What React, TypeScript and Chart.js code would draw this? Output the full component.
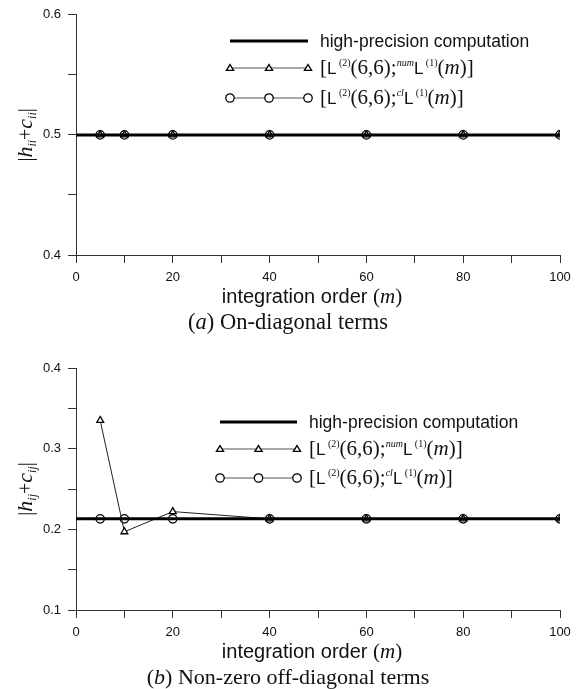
import React, { useEffect, useRef } from 'react';
import { Chart, registerables } from 'chart.js';
Chart.register(...registerables);

// ---------- data ----------
const mOrders = [5, 10, 20, 40, 60, 80, 100];
const hpSpan = [0, 100];
const hpOnDiag = 0.5;
const numOnDiag = [0.5, 0.5, 0.5, 0.5, 0.5, 0.5, 0.5];
const clOnDiag = [0.5, 0.5, 0.5, 0.5, 0.5, 0.5, 0.5];
const hpOffDiag = 0.213;
const numOffDiag = [0.335, 0.197, 0.222, 0.213, 0.213, 0.213, 0.213];
const clOffDiag = [0.213, 0.213, 0.213, 0.213, 0.213, 0.213, 0.213];
const xRange = [0, 100];
const yRangeA = [0.4, 0.6];
const yRangeB = [0.1, 0.4];
const legendTexts = ['high-precision computation', 'num', 'cl'];

const SANS = '"Liberation Sans", Arial, Helvetica, sans-serif';
const SERIF = '"Liberation Serif", "Times New Roman", Times, serif';

type Run = { t: string; f: string; dy?: number };

function runsWidth(ctx: CanvasRenderingContext2D, runs: Run[]) {
  let w = 0;
  for (const r of runs) {
    ctx.font = r.f;
    w += ctx.measureText(r.t).width;
  }
  return w;
}

function drawRuns(ctx: CanvasRenderingContext2D, runs: Run[], x: number, y: number, align: 'left' | 'center') {
  let cx = align === 'center' ? x - runsWidth(ctx, runs) / 2 : x;
  ctx.textAlign = 'left';
  ctx.textBaseline = 'alphabetic';
  for (const r of runs) {
    ctx.font = r.f;
    ctx.fillText(r.t, cx, y + (r.dy || 0));
    cx += ctx.measureText(r.t).width;
  }
}

function lambdaRuns(sup: string): Run[] {
  return [
    { t: '[', f: `21px ${SERIF}` },
    { t: 'L', f: `17px ${SANS}` },
    { t: ' (2)', f: `10px ${SERIF}`, dy: -8 },
    { t: '(6,6);', f: `21px ${SERIF}` },
    { t: sup, f: `italic 10px ${SERIF}`, dy: -8 },
    { t: 'L', f: `17px ${SANS}` },
    { t: ' (1)', f: `10px ${SERIF}`, dy: -8 },
    { t: '(', f: `21px ${SERIF}` },
    { t: 'm', f: `italic 21px ${SERIF}` },
    { t: ')]', f: `21px ${SERIF}` },
  ];
}

function drawTri(ctx: CanvasRenderingContext2D, x: number, y: number, r: number) {
  const h = r * 1.6;
  ctx.beginPath();
  ctx.moveTo(x, y - h * 0.6);
  ctx.lineTo(x + r, y + h * 0.4);
  ctx.lineTo(x - r, y + h * 0.4);
  ctx.closePath();
  ctx.fillStyle = '#fff';
  ctx.fill();
  ctx.strokeStyle = '#000';
  ctx.lineWidth = 1.3;
  ctx.stroke();
}

function drawCirc(ctx: CanvasRenderingContext2D, x: number, y: number, r: number) {
  ctx.beginPath();
  ctx.arc(x, y, r, 0, Math.PI * 2);
  ctx.fillStyle = '#fff';
  ctx.fill();
  ctx.strokeStyle = '#000';
  ctx.lineWidth = 1.3;
  ctx.stroke();
}

type PanelCfg = {
  height: number;
  top: number;
  yMin: number;
  yMax: number;
  hp: number;
  num: number[];
  cl: number[];
  sub: string;
  caption: Run[];
  legend: { x0: number; x1: number; tx: number; rows: number[] };
};

function Panel({ cfg }: { cfg: PanelCfg }) {
  const ref = useRef<HTMLCanvasElement | null>(null);
  useEffect(() => {
    const canvas = ref.current!;
    const annot = {
      id: 'annot',
      afterDraw(chart: any) {
        const ctx: CanvasRenderingContext2D = chart.ctx;
        const area = chart.chartArea;
        ctx.save();
        const L = cfg.legend;
        // row 1
        ctx.strokeStyle = '#000';
        ctx.lineWidth = 3;
        ctx.beginPath();
        ctx.moveTo(L.x0, L.rows[0]);
        ctx.lineTo(L.x1, L.rows[0]);
        ctx.stroke();
        ctx.fillStyle = '#111';
        drawRuns(ctx, [{ t: legendTexts[0], f: `17.5px ${SANS}` }], L.tx, L.rows[0] + 6, 'left');
        // rows 2, 3
        const xm = (L.x0 + L.x1) / 2;
        for (let k = 1; k <= 2; k++) {
          const y = L.rows[k];
          ctx.strokeStyle = '#555';
          ctx.lineWidth = 1.2;
          ctx.beginPath();
          ctx.moveTo(L.x0, y);
          ctx.lineTo(L.x1, y);
          ctx.stroke();
          for (const px of [L.x0, xm, L.x1]) {
            if (k === 1) drawTri(ctx, px, y, 3.6);
            else drawCirc(ctx, px, y, 4.2);
          }
          ctx.fillStyle = '#111';
          drawRuns(ctx, lambdaRuns(legendTexts[k]), L.tx, y + 6, 'left');
        }
        // y-axis title (rotated)
        const cy = (area.top + area.bottom) / 2;
        ctx.save();
        ctx.translate(25, cy);
        ctx.rotate(-Math.PI / 2);
        ctx.fillStyle = '#111';
        drawRuns(ctx, [
          { t: '|', f: `20px ${SERIF}` },
          { t: 'h', f: `italic 22px ${SERIF}` },
          { t: cfg.sub, f: `italic 12px ${SERIF}`, dy: 4 },
          { t: '+', f: `20px ${SERIF}` },
          { t: 'c', f: `italic 22px ${SERIF}` },
          { t: cfg.sub, f: `italic 12px ${SERIF}`, dy: 4 },
          { t: '|', f: `20px ${SERIF}` },
        ], 0, 7, 'center');
        ctx.restore();
        // x-axis title
        ctx.fillStyle = '#111';
        drawRuns(ctx, [
          { t: 'integration order ', f: `20px ${SANS}` },
          { t: '(', f: `21px ${SERIF}` },
          { t: 'm', f: `italic 21px ${SERIF}` },
          { t: ')', f: `21px ${SERIF}` },
        ], 312, area.bottom + 48, 'center');
        // caption
        drawRuns(ctx, cfg.caption, 288, area.bottom + 74, 'center');
        ctx.restore();
      },
    };

    const chart = new Chart(canvas, {
      type: 'scatter',
      data: {
        datasets: [
          {
            label: 'hp',
            data: hpSpan.map((x) => ({ x, y: cfg.hp })),
            showLine: true,
            borderColor: '#000',
            borderWidth: 3,
            pointRadius: 0,
          },
          {
            label: 'num',
            data: mOrders.map((m, i) => ({ x: m, y: cfg.num[i] })),
            showLine: true,
            borderColor: '#222',
            borderWidth: 1,
            pointStyle: 'triangle',
            pointRadius: 4,
            pointBorderWidth: 1.3,
            pointBorderColor: '#000',
            pointBackgroundColor: '#fff',
          },
          {
            label: 'cl',
            data: mOrders.map((m, i) => ({ x: m, y: cfg.cl[i] })),
            showLine: true,
            borderColor: '#555',
            borderWidth: 1,
            pointStyle: 'circle',
            pointRadius: 4.2,
            pointBorderWidth: 1.3,
            pointBorderColor: '#000',
            pointBackgroundColor: '#fff',
          },
        ],
      },
      options: {
        responsive: false,
        animation: false,
        devicePixelRatio: 1,
        layout: { padding: { top: cfg.top, right: 18, left: 0, bottom: 0 } },
        plugins: { legend: { display: false }, tooltip: { enabled: false } },
        scales: {
          x: {
            type: 'linear',
            min: xRange[0],
            max: xRange[1],
            afterFit: (s: any) => { s.height = cfg.height - (cfg.top + 242); },
            grid: { display: true, drawOnChartArea: false, drawTicks: true, tickLength: 8, color: '#333' },
            border: { display: true, color: '#333', width: 1 },
            ticks: {
              stepSize: 10,
              autoSkip: false,
              maxRotation: 0,
              padding: 7,
              color: '#111',
              font: { family: SANS, size: 13 },
              callback: (v: any) => (Math.round(v) % 20 === 0 ? String(v) : ''),
            },
          },
          y: {
            type: 'linear',
            min: cfg.yMin,
            max: cfg.yMax,
            afterFit: (s: any) => { s.width = 76; },
            grid: { display: true, drawOnChartArea: false, drawTicks: true, tickLength: 8, color: '#333' },
            border: { display: true, color: '#333', width: 1 },
            ticks: {
              stepSize: 0.05,
              autoSkip: false,
              padding: 7,
              color: '#111',
              font: { family: SANS, size: 13 },
              callback: (v: any) => {
                const t = Number(v) * 10;
                return Math.abs(t - Math.round(t)) < 1e-6 ? Number(v).toFixed(1) : '';
              },
            },
          },
        },
      },
      plugins: [annot],
    } as any);
    return () => chart.destroy();
  }, [cfg]);
  return <canvas ref={ref} width={578} height={cfg.height} style={{ display: 'block', width: 578, height: cfg.height }} />;
}

const cfgA: PanelCfg = {
  height: 345,
  top: 13,
  yMin: yRangeA[0],
  yMax: yRangeA[1],
  hp: hpOnDiag,
  num: numOnDiag,
  cl: clOnDiag,
  sub: 'ii',
  caption: [
    { t: '(', f: `22.5px ${SERIF}` },
    { t: 'a', f: `italic 22.5px ${SERIF}` },
    { t: ') On-diagonal terms', f: `22.5px ${SERIF}` },
  ],
  legend: { x0: 230, x1: 308, tx: 320, rows: [41, 68, 98] },
};

const cfgB: PanelCfg = {
  height: 344,
  top: 23,
  yMin: yRangeB[0],
  yMax: yRangeB[1],
  hp: hpOffDiag,
  num: numOffDiag,
  cl: clOffDiag,
  sub: 'ij',
  caption: [
    { t: '(', f: `22px ${SERIF}` },
    { t: 'b', f: `italic 22px ${SERIF}` },
    { t: ') Non-zero off-diagonal terms', f: `22px ${SERIF}` },
  ],
  legend: { x0: 220, x1: 297, tx: 309, rows: [77, 104, 133] },
};

export default function App() {
  return (
    <div style={{ position: 'absolute', left: 0, top: 0, width: 578, height: 689, background: '#fff' }}>
      <Panel cfg={cfgA} />
      <Panel cfg={cfgB} />
    </div>
  );
}
